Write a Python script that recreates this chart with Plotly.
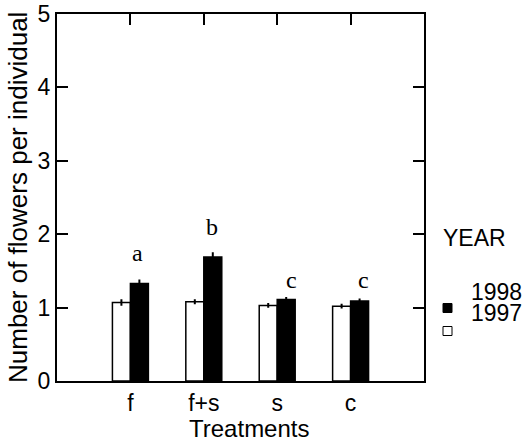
import plotly.graph_objects as go

treatments = ["f", "f+s", "s", "c"]
vals_1997 = [1.07, 1.08, 1.03, 1.02]
err_1997 = [0.03, 0.02, 0.02, 0.02]
vals_1998 = [1.33, 1.69, 1.11, 1.09]
err_1998 = [0.04, 0.05, 0.02, 0.02]
letters = ["a", "b", "c", "c"]
letter_y = [1.74, 2.1, 1.38, 1.38]
letter_dx = [0.09, 0.11, 0.2, 0.18]
yticks = [0, 1, 2, 3, 4, 5]

xpos = list(range(len(treatments)))
FONT = "Liberation Sans, Arial, sans-serif"
SERIF = "Liberation Serif, Times New Roman, serif"
FS = 23

W, H = 524, 443
L, R, T, B = 57, 100, 14, 62
pw, ph = W - L - R, H - T - B
def px(x): return (x - L) / pw
def py(y): return (H - B - y) / ph

fig = go.Figure()
fig.add_trace(go.Bar(
    x=xpos, y=vals_1997, name="1997",
    marker=dict(color="white", line=dict(color="black", width=1.5)),
    error_y=dict(type="data", array=err_1997, color="black", thickness=2, width=1),
    showlegend=False,
))
fig.add_trace(go.Bar(
    x=xpos, y=vals_1998, name="1998",
    marker=dict(color="black", line=dict(color="black", width=1.5)),
    error_y=dict(type="data", array=err_1998, color="black", thickness=2, width=1),
    showlegend=False,
))
# invisible trace to activate mirrored axes
fig.add_trace(go.Scatter(x=[0], y=[0], xaxis="x2", yaxis="y2", mode="markers",
                         marker=dict(opacity=0), showlegend=False, hoverinfo="skip"))

for i, lt in enumerate(letters):
    fig.add_annotation(x=xpos[i] + letter_dx[i], y=letter_y[i], text=lt, showarrow=False,
                       font=dict(family=SERIF, size=24, color="black"), xref="x", yref="y")

fig.update_layout(
    width=W, height=H,
    margin=dict(l=L, r=R, t=T, b=B, autoexpand=False),
    paper_bgcolor="white", plot_bgcolor="white",
    barmode="group", bargap=0.51, bargroupgap=0,
    font=dict(family=FONT, size=FS, color="black"),
    xaxis=dict(range=[-1, 4], tickvals=xpos, ticktext=treatments, showline=True,
               linecolor="black", linewidth=2, ticks="", showgrid=False, zeroline=False,
               automargin=False, tickfont=dict(size=FS), ticklabelstandoff=0),
    xaxis2=dict(range=[-1, 4], overlaying="x", side="top", tickvals=xpos, showticklabels=False,
                ticks="inside", ticklen=11, tickwidth=2, tickcolor="black", showline=True,
                linecolor="black", linewidth=2, showgrid=False, zeroline=False, automargin=False),
    yaxis=dict(range=[0, 5], tickvals=yticks, showline=True, linecolor="black", linewidth=2,
               ticks="inside", ticklen=11, tickwidth=2, tickcolor="black", showgrid=False,
               zeroline=False, tickfont=dict(size=FS), automargin=False),
    yaxis2=dict(range=[0, 5], overlaying="y", side="right", tickvals=yticks, showticklabels=False,
                ticks="inside", ticklen=11, tickwidth=2, tickcolor="black", showline=True,
                linecolor="black", linewidth=2, showgrid=False, zeroline=False, automargin=False),
)

# axis titles
fig.add_annotation(x=px(18), y=py(198), xref="paper", yref="paper", textangle=-90,
                   text="Number of flowers per individual", showarrow=False,
                   xanchor="center", yanchor="middle", font=dict(family=FONT, size=26, color="black"))
fig.add_annotation(x=px(249), y=py(428), xref="paper", yref="paper",
                   text="Treatments", showarrow=False,
                   xanchor="center", yanchor="middle", font=dict(family=FONT, size=24, color="black"))

# legend text and keys
for txt, x, y in [("YEAR", 441, 238), ("1998", 469, 292), ("1997", 469, 313)]:
    fig.add_annotation(x=px(x), y=py(y), xref="paper", yref="paper", text=txt, showarrow=False,
                       xanchor="left", yanchor="middle", font=dict(family=FONT, size=FS, color="black"))
for fill, yc in [("black", 308), ("white", 331)]:
    fig.add_shape(type="rect", xref="paper", yref="paper",
                  x0=px(443), x1=px(452), y0=py(yc + 4.5), y1=py(yc - 4.5),
                  fillcolor=fill, line=dict(color="black", width=1))

fig.write_html("out.html", config={"displayModeBar": False},
               post_script="document.body.style.margin='0';")
